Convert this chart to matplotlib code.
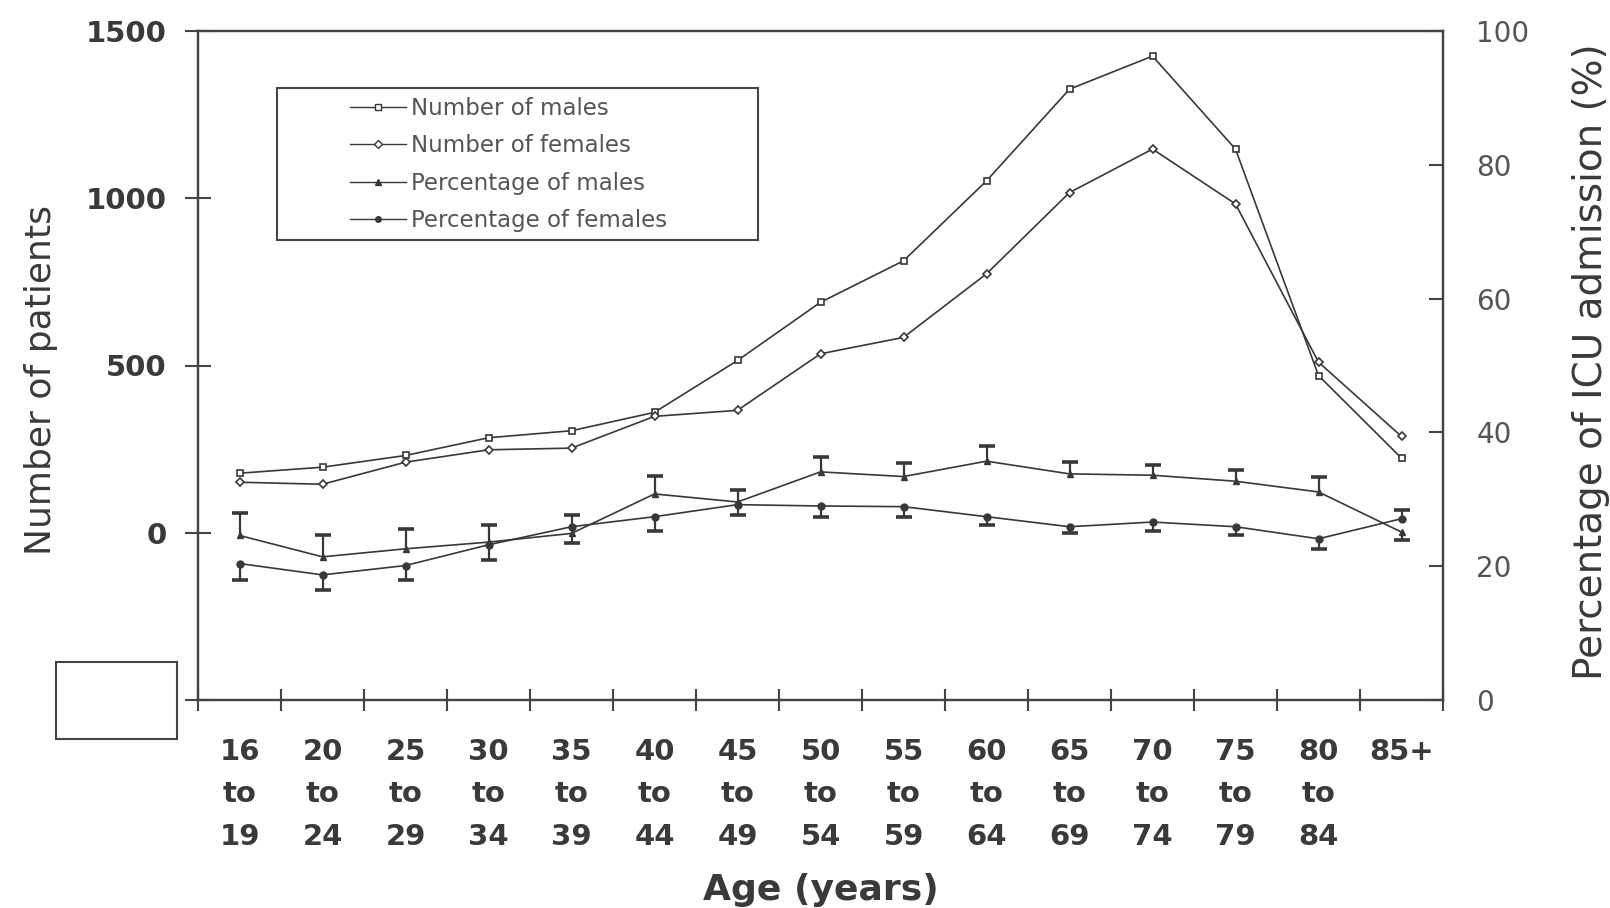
import numpy as np
import matplotlib
matplotlib.use("Agg")
import matplotlib.pyplot as plt
from matplotlib.patches import Rectangle
from matplotlib.lines import Line2D

# ---------------- data ----------------
age_labels = ["16\nto\n19", "20\nto\n24", "25\nto\n29", "30\nto\n34", "35\nto\n39",
              "40\nto\n44", "45\nto\n49", "50\nto\n54", "55\nto\n59", "60\nto\n64",
              "65\nto\n69", "70\nto\n74", "75\nto\n79", "80\nto\n84", "85+"]

n_males = [178, 196, 231, 284, 305, 360, 515, 689, 813, 1052, 1326, 1425, 1147, 470, 223]
n_females = [151, 145, 211, 248, 253, 348, 366, 535, 584, 774, 1017, 1147, 983, 510, 288]

pct_males = [24.6, 21.4, 22.6, 23.6, 24.9, 30.8, 29.6, 34.1, 33.4, 35.7, 33.8, 33.6, 32.7, 31.1, 25.1]
pct_males_err_low = [0, 0, 0, 0, 1.5, 0, 0, 0, 0, 0, 0, 0, 0, 0, 1.2]
pct_males_err_up = [3.3, 3.2, 3.0, 2.5, 0, 2.7, 1.8, 2.2, 2.1, 2.2, 1.8, 1.6, 1.7, 2.3, 0]

pct_females = [20.4, 18.7, 20.1, 23.2, 25.9, 27.4, 29.2, 29.0, 28.9, 27.4, 25.9, 26.6, 25.9, 24.1, 27.1]
pct_females_err_low = [2.5, 2.3, 2.2, 2.3, 0, 2.2, 1.6, 1.6, 1.5, 1.2, 1.0, 1.3, 1.3, 1.6, 0]
pct_females_err_up = [0, 0, 0, 0, 1.7, 0, 0, 0, 0, 0, 0, 0, 0, 0, 1.3]

left_ticks = [-500, 0, 500, 1000, 1500]
left_ticklabels = ["", "0", "500", "1000", "1500"]
right_ticks = [0, 20, 40, 60, 80, 100]

legend_labels = ["Number of males", "Number of females",
                 "Percentage of males", "Percentage of females"]

# ---------------- style ----------------
plt.rcParams['font.family'] = ['DejaVu Sans']
INK = '#3a3a3a'
LINE = '#383838'
W, H = 1610, 908

fig = plt.figure(figsize=(W / 100, H / 100), dpi=100)
fig.patch.set_facecolor('white')

ax = fig.add_axes([198 / W, 1 - 700 / H, (1443 - 198) / W, (700 - 31) / H])
ax2 = ax.twinx()

x = np.arange(len(age_labels))

# number of patients (left axis)
ax.plot(x, n_males, color=LINE, lw=1.2, marker='s', ms=5, mfc='white',
        mec=LINE, mew=1.2, zorder=3)
ax.plot(x, n_females, color=LINE, lw=1.2, marker='D', ms=4.2, mfc='white',
        mec=LINE, mew=1.2, zorder=3)


def draw_err(axis, xs, ys, lo, up):
    xs = np.asarray(xs, float)
    ys = np.asarray(ys, float)
    lo = np.asarray(lo, float)
    up = np.asarray(up, float)
    m_up = up > 0
    m_lo = lo > 0
    axis.vlines(xs[m_up], ys[m_up], ys[m_up] + up[m_up], color=LINE, lw=1.6, zorder=3)
    axis.vlines(xs[m_lo], ys[m_lo] - lo[m_lo], ys[m_lo], color=LINE, lw=1.6, zorder=3)
    axis.plot(xs[m_up], ys[m_up] + up[m_up], ls='none', marker='_', ms=12,
              mew=2.6, color=LINE, zorder=3)
    axis.plot(xs[m_lo], ys[m_lo] - lo[m_lo], ls='none', marker='_', ms=12,
              mew=2.6, color=LINE, zorder=3)


# percentages (right axis)
ax2.plot(x, pct_males, color=LINE, lw=1.2, marker='^', ms=5, mfc=LINE, mec=LINE, zorder=3)
draw_err(ax2, x, pct_males, pct_males_err_low, pct_males_err_up)
ax2.plot(x, pct_females, color=LINE, lw=1.2, marker='o', ms=5, mfc=LINE, mec=LINE, zorder=3)
draw_err(ax2, x, pct_females, pct_females_err_low, pct_females_err_up)

# axes limits
ax.set_xlim(-0.5, len(age_labels) - 0.5)
ax.set_ylim(-500, 1500)
ax2.set_ylim(0, 100)

for a in (ax, ax2):
    for s in a.spines.values():
        s.set_color('#444444')
        s.set_linewidth(1.6)

# left axis ticks
ax.set_yticks(left_ticks)
ax.set_yticklabels(left_ticklabels)
ax.tick_params(axis='y', direction='inout', length=19, width=1.5, color='#444444',
               pad=13, labelsize=21, labelcolor=INK)
for t in ax.get_yticklabels():
    t.set_fontweight('bold')

# right axis ticks
ax2.set_yticks(right_ticks)
ax2.tick_params(axis='y', direction='in', length=10, width=1.5, color='#444444',
                pad=24, labelsize=20, labelcolor='#555555')

# x ticks: labels at centers, tick marks at boundaries
ax.set_xticks(x)
ax.set_xticklabels(age_labels, linespacing=1.68)
ax.set_xticks(np.arange(-0.5, len(age_labels)), minor=True)
ax.tick_params(axis='x', which='major', length=0, pad=27, labelsize=21, labelcolor=INK)
ax.tick_params(axis='x', which='minor', direction='inout', length=16, width=1.5,
               color='#444444')
for t in ax.get_xticklabels():
    t.set_fontweight('bold')

# axis titles
fig.text(41 / W, 1 - 380 / H, "Number of patients", rotation=90, ha='center',
         va='center', fontsize=26, color=INK)
fig.text(1591 / W, 1 - 362 / H, "Percentage of ICU admission (%)", rotation=90,
         ha='center', va='center', fontsize=28, color=INK)
fig.text(821 / W, 1 - 890 / H, "Age (years)", ha='center', va='center',
         fontsize=26, fontweight='bold', color=INK)

# legend (frame drawn separately)
handles = [
    Line2D([], [], color=LINE, lw=1.0, marker='s', ms=5, mfc='white', mec=LINE),
    Line2D([], [], color=LINE, lw=1.0, marker='D', ms=4, mfc='white', mec=LINE),
    Line2D([], [], color=LINE, lw=1.0, marker='^', ms=4, mfc=LINE, mec=LINE),
    Line2D([], [], color=LINE, lw=1.0, marker='o', ms=4, mfc=LINE, mec=LINE),
]
leg = ax2.legend(handles, legend_labels, loc='upper left',
                 bbox_to_anchor=(350 / W, 1 - 97 / H), bbox_transform=fig.transFigure,
                 frameon=False, borderpad=0, borderaxespad=0, handlelength=2.45,
                 handletextpad=0.2, labelspacing=0.63, fontsize=16.5)
for t in leg.get_texts():
    t.set_color('#555555')
fig.patches.append(Rectangle((277 / W, 1 - 240 / H), 481 / W, 152 / H,
                             transform=fig.transFigure, fill=False,
                             edgecolor='#444444', lw=1.5))

# empty box at lower left
fig.patches.append(Rectangle((56 / W, 1 - 739 / H), 121 / W, 77 / H,
                             transform=fig.transFigure, fill=False,
                             edgecolor='#444444', lw=1.5))

fig.savefig("out.png", dpi=100, facecolor='white')
